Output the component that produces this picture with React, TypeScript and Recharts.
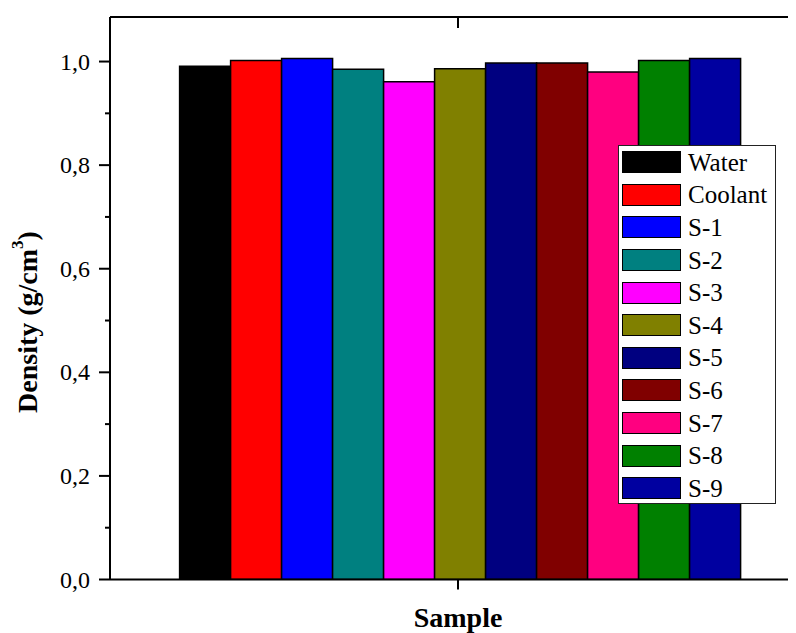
import React from "react";
import { BarChart, Bar, XAxis, YAxis, Legend } from "recharts";

const categories = [""];
const seriesNames = ["Water", "Coolant", "S-1", "S-2", "S-3", "S-4", "S-5", "S-6", "S-7", "S-8", "S-9"];
const densities = [0.991, 1.002, 1.006, 0.985, 0.961, 0.986, 0.997, 0.997, 0.98, 1.002, 1.006];
const colors = ["#000000", "#FF0000", "#0000FF", "#008080", "#FF00FF", "#808000", "#000080", "#800000", "#FF0080", "#008000", "#0000A0"];
const yTicks = [0, 0.1, 0.2, 0.3, 0.4, 0.5, 0.6, 0.7, 0.8, 0.9, 1.0];
const topTicks = [1, 2, 3, 4, 5, 6, 7, 8, 9];

const data = categories.map((c) => {
  const row: Record<string, any> = { name: c };
  seriesNames.forEach((s, i) => {
    row[s] = densities[i];
  });
  return row;
});

const FONT = "'Liberation Serif', 'Times New Roman', serif";

const YTick = (props: any) => {
  const { x, y, payload } = props;
  const v = payload.value as number;
  const major = Math.round(v * 10) % 2 === 0;
  return (
    <g>
      <line x1={x - (major ? 11 : 5)} y1={y} x2={x} y2={y} stroke="#000" strokeWidth={2} />
      {major && (
        <text x={x - 20} y={y} dy={8} textAnchor="end" style={{ fontFamily: FONT }} fontSize={24} fill="#000">
          {v.toFixed(1).replace(".", ",")}
        </text>
      )}
    </g>
  );
};

const BottomTick = (props: any) => {
  const { x, y } = props;
  return <line x1={x} y1={y} x2={x} y2={y + 10} stroke="#000" strokeWidth={2} />;
};

const TopTick = (props: any) => {
  const { x, y, payload } = props;
  const major = payload.value % 2 === 0;
  return <line x1={x} y1={y} x2={x} y2={y + (major ? 11 : 5)} stroke="#000" strokeWidth={2} />;
};

const YLabel = () => {
  const cx = 29;
  const cy = 314;
  return (
    <text
      x={cx}
      y={cy}
      transform={`rotate(-90, ${cx}, ${cy})`}
      textAnchor="middle"
      style={{ fontFamily: FONT }}
      fontWeight="bold"
      fontSize={28}
      fill="#000"
    >
      <tspan>Density (g/cm</tspan>
      <tspan fontSize={17} dy={-14}>3</tspan>
      <tspan dy={14}>)</tspan>
    </text>
  );
};

const LegendBox = () => {
  return (
    <div
      style={{
        width: 158,
        height: 359,
        boxSizing: "border-box",
        border: "1px solid #222",
        background: "#fff",
        paddingTop: 0,
        paddingLeft: 3,
        fontFamily: FONT,
        fontSize: 25,
        lineHeight: "25px",
        color: "#000",
        overflow: "hidden",
      }}
    >
      {seriesNames.map((name, i) => (
        <div key={name} style={{ display: "flex", alignItems: "center", height: 32.6 }}>
          <div
            style={{
              width: 59,
              height: 22,
              flexShrink: 0,
              boxSizing: "border-box",
              border: "1.5px solid #000",
              background: colors[i],
            }}
          />
          <span style={{ marginLeft: 7, lineHeight: "25px" }}>{name}</span>
        </div>
      ))}
    </div>
  );
};

export default function App() {
  return (
    <div style={{ width: 788, height: 625, overflow: "hidden" }}>
      <BarChart
        width={810}
        height={625}
        data={data}
        margin={{ top: 4, right: 12, bottom: 3.5, left: 0 }}
        barCategoryGap="10%"
        barGap={0}
      >
        <XAxis
          xAxisId="cat"
          dataKey="name"
          orientation="bottom"
          height={50}
          axisLine={{ stroke: "#000", strokeWidth: 2 }}
          tickLine={false}
          tickSize={0}
          tickMargin={0}
          tick={<BottomTick />}
          label={{
            value: "Sample",
            position: "insideBottom",
            offset: 2.5,
            style: { fontFamily: FONT, fontWeight: "bold", fontSize: 28, fill: "#000" },
          }}
        />
        <XAxis
          xAxisId="top"
          type="number"
          orientation="top"
          domain={[0, 10]}
          ticks={topTicks}
          interval={0}
          allowDataOverflow
          height={5}
          axisLine={{ stroke: "#000", strokeWidth: 2 }}
          tickLine={false}
          tickSize={0}
          tickMargin={0}
          tick={<TopTick />}
        />
        <YAxis
          width={102}
          domain={[0, 1.086]}
          ticks={yTicks}
          interval={0}
          allowDataOverflow
          axisLine={{ stroke: "#000", strokeWidth: 2 }}
          tickLine={false}
          tickSize={0}
          tickMargin={0}
          tick={<YTick />}
          label={<YLabel />}
        />
        <Legend
          layout="vertical"
          align="center"
          verticalAlign="middle"
          content={<LegendBox />}
          wrapperStyle={{ left: 610, top: 137, width: 158, height: 359 }}
        />
        {seriesNames.map((s, i) => (
          <Bar
            key={s}
            xAxisId="cat"
            dataKey={s}
            name={s}
            fill={colors[i]}
            stroke="#000"
            strokeWidth={1.5}
            isAnimationActive={false}
          />
        ))}
      </BarChart>
    </div>
  );
}
